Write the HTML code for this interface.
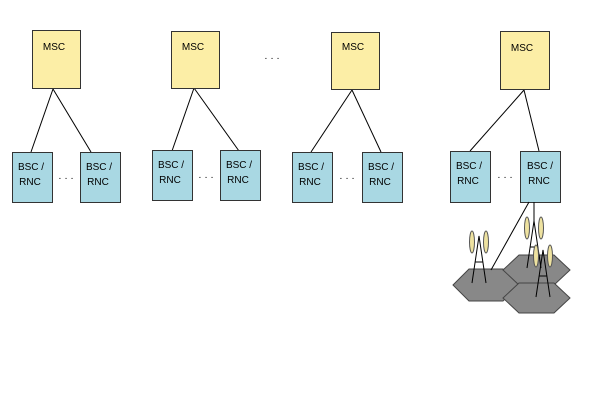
<!DOCTYPE html>
<html><head><meta charset="utf-8"><style>body{margin:0;background:#fff}svg{display:block}text{font-family:"Liberation Sans",sans-serif;font-size:10px;fill:#000}</style></head><body>
<svg width="600" height="400" viewBox="0 0 600 400" xmlns="http://www.w3.org/2000/svg">
<g stroke="#000" stroke-width="1">
<line x1="53" y1="89" x2="31" y2="152"/><line x1="53" y1="89" x2="91" y2="152"/>
<line x1="194" y1="88" x2="172" y2="151"/><line x1="194" y1="88" x2="239" y2="151"/>
<line x1="352" y1="90" x2="311" y2="152"/><line x1="352" y1="90" x2="381" y2="152"/>
<line x1="524" y1="90" x2="470" y2="151"/><line x1="524" y1="90" x2="539" y2="151"/>
</g>
<g fill="#fceea6" stroke="#333">
<rect x="32.5" y="30.5" width="48" height="58"/>
<rect x="171.5" y="31.5" width="48" height="57"/>
<rect x="331.5" y="32.5" width="48" height="57"/>
<rect x="500.5" y="31.5" width="49" height="58"/>
</g>
<g fill="#a9d8e3" stroke="#333">
<rect x="12.5" y="152.5" width="40" height="50"/><rect x="80.5" y="152.5" width="40" height="50"/>
<rect x="152.5" y="150.5" width="40" height="50"/><rect x="220.5" y="150.5" width="40" height="50"/>
<rect x="292.5" y="152.5" width="40" height="50"/><rect x="362.5" y="152.5" width="40" height="50"/>
<rect x="450.5" y="151.5" width="40" height="51"/><rect x="520.5" y="151.5" width="40" height="51"/>
</g>
<g text-anchor="middle">
<text x="54" y="50">MSC</text><text x="193" y="50">MSC</text><text x="353" y="50">MSC</text><text x="522" y="51">MSC</text>
<text x="31" y="170">BSC /</text><text x="30" y="185">RNC</text>
<text x="99" y="170">BSC /</text><text x="98" y="185">RNC</text>
<text x="171" y="168">BSC /</text><text x="170" y="183">RNC</text>
<text x="239" y="168">BSC /</text><text x="238" y="183">RNC</text>
<text x="311" y="170">BSC /</text><text x="310" y="185">RNC</text>
<text x="381" y="170">BSC /</text><text x="380" y="185">RNC</text>
<text x="469" y="169">BSC /</text><text x="468" y="184">RNC</text>
<text x="540" y="169">BSC /</text><text x="539" y="184">RNC</text>
<text x="66" y="181">· · ·</text><text x="206" y="180">· · ·</text><text x="347" y="181">· · ·</text><text x="505" y="180">· · ·</text>
<text x="272" y="61">· · ·</text>
</g>
<g fill="#888" stroke="#444">
<polygon points="453,285 469,269 503,269 519,285 503,301 469,301"/>
<polygon points="503,270 519,255 554,255 570,270 554,285 519,285"/>
<polygon points="503,298 519,283 554,283 570,298 554,313 519,313"/>
</g>
<g stroke="#000" fill="none">
<line x1="529" y1="202" x2="491" y2="270"/>
<line x1="534" y1="202" x2="534" y2="222"/>
<path d="M472,283 L479,236 L486,283 M475,262 L483,262"/>
<path d="M527,268 L534,221 L541,268 M530,247 L538,247"/>
<path d="M536,297 L543,250 L550,297 M539,276 L547,276"/>
</g>
<g fill="#eee2a0" stroke="#555">
<ellipse cx="472" cy="242" rx="2.5" ry="11"/><ellipse cx="486" cy="242" rx="2.5" ry="11"/>
<ellipse cx="527" cy="228" rx="2.5" ry="11"/><ellipse cx="541" cy="228" rx="2.5" ry="11"/>
<ellipse cx="536" cy="256" rx="2.5" ry="11"/><ellipse cx="550" cy="256" rx="2.5" ry="11"/>
</g>
</svg>
</body></html>
